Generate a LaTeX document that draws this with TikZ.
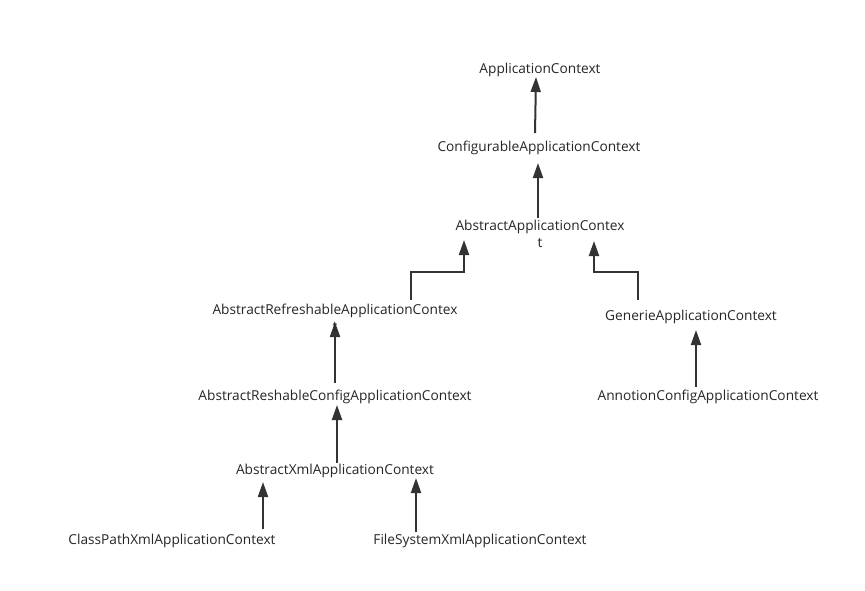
\documentclass[tikz,border=0pt]{standalone}
\usepackage{fontspec}
\setmainfont{Open Sans}
\usetikzlibrary{arrows.meta,backgrounds}
\begin{document}
\begin{tikzpicture}[x=1pt,y=-1pt,
  lbl/.style={inner sep=0pt,yshift=-2pt,font=\fontsize{13.7}{17}\selectfont,text=black!85,align=center},
  arr/.style={draw=black!80,line width=2pt,-{Triangle[width=10pt,length=15pt]}}]
\useasboundingbox (0,0) rectangle (865,590);
\node[lbl] (app) at (540,68) {ApplicationContext};
\node[lbl] (cfg) at (539,146) {ConfigurableApplicationContext};
\node[lbl] (abs) at (540,231.5) {AbstractApplicationContex\\t};
\node[lbl] (ref) at (335,315.5) {AbstractRefreshableApplicationContex\\t};
\node[lbl] (gen) at (691,315) {GenerieApplicationContext};
\node[lbl] (res) at (335,395) {AbstractReshableConfigApplicationContext};
\node[lbl] (ann) at (708,395) {AnnotionConfigApplicationContext};
\node[lbl] (xml) at (335,469) {AbstractXmlApplicationContext};
\node[lbl] (cp) at (172,539) {ClassPathXmlApplicationContext};
\node[lbl] (fs) at (480,539) {FileSystemXmlApplicationContext};
\begin{scope}[on background layer]
\fill[white] (0,0) rectangle (865,590);
\draw[arr] ([xshift=-4pt,yshift=15pt]cfg.center) -- ([xshift=-4pt,yshift=-7pt]app.center);
\draw[arr] ([xshift=-2pt,yshift=15.5pt]abs.center) -- ([xshift=-1pt,yshift=-15pt]cfg.center);
\draw[arr] ([xshift=76pt,yshift=17.5pt]ref.center) |- ([xshift=-76pt,yshift=-38.5pt]abs.center) -- ([xshift=-76pt,yshift=-6.5pt]abs.center);
\draw[arr] ([xshift=-53pt,yshift=17pt]gen.center) |- ([xshift=54pt,yshift=-38.5pt]abs.center) -- ([xshift=54pt,yshift=-7.5pt]abs.center);
\draw[arr] ([yshift=14pt]res.center) -- ([yshift=-4.5pt]ref.center);
\draw[arr] ([xshift=2pt,yshift=8pt]xml.center) -- ([xshift=2pt,yshift=-8pt]res.center);
\draw[arr] ([xshift=91pt,yshift=12pt]cp.center) -- ([xshift=-72pt,yshift=-11pt]xml.center);
\draw[arr] ([xshift=-64pt,yshift=9pt]fs.center) -- ([xshift=81pt,yshift=-7pt]xml.center);
\draw[arr] ([xshift=-12pt,yshift=10pt]ann.center) -- ([xshift=5pt,yshift=-13pt]gen.center);
\end{scope}
\end{tikzpicture}
\end{document}
